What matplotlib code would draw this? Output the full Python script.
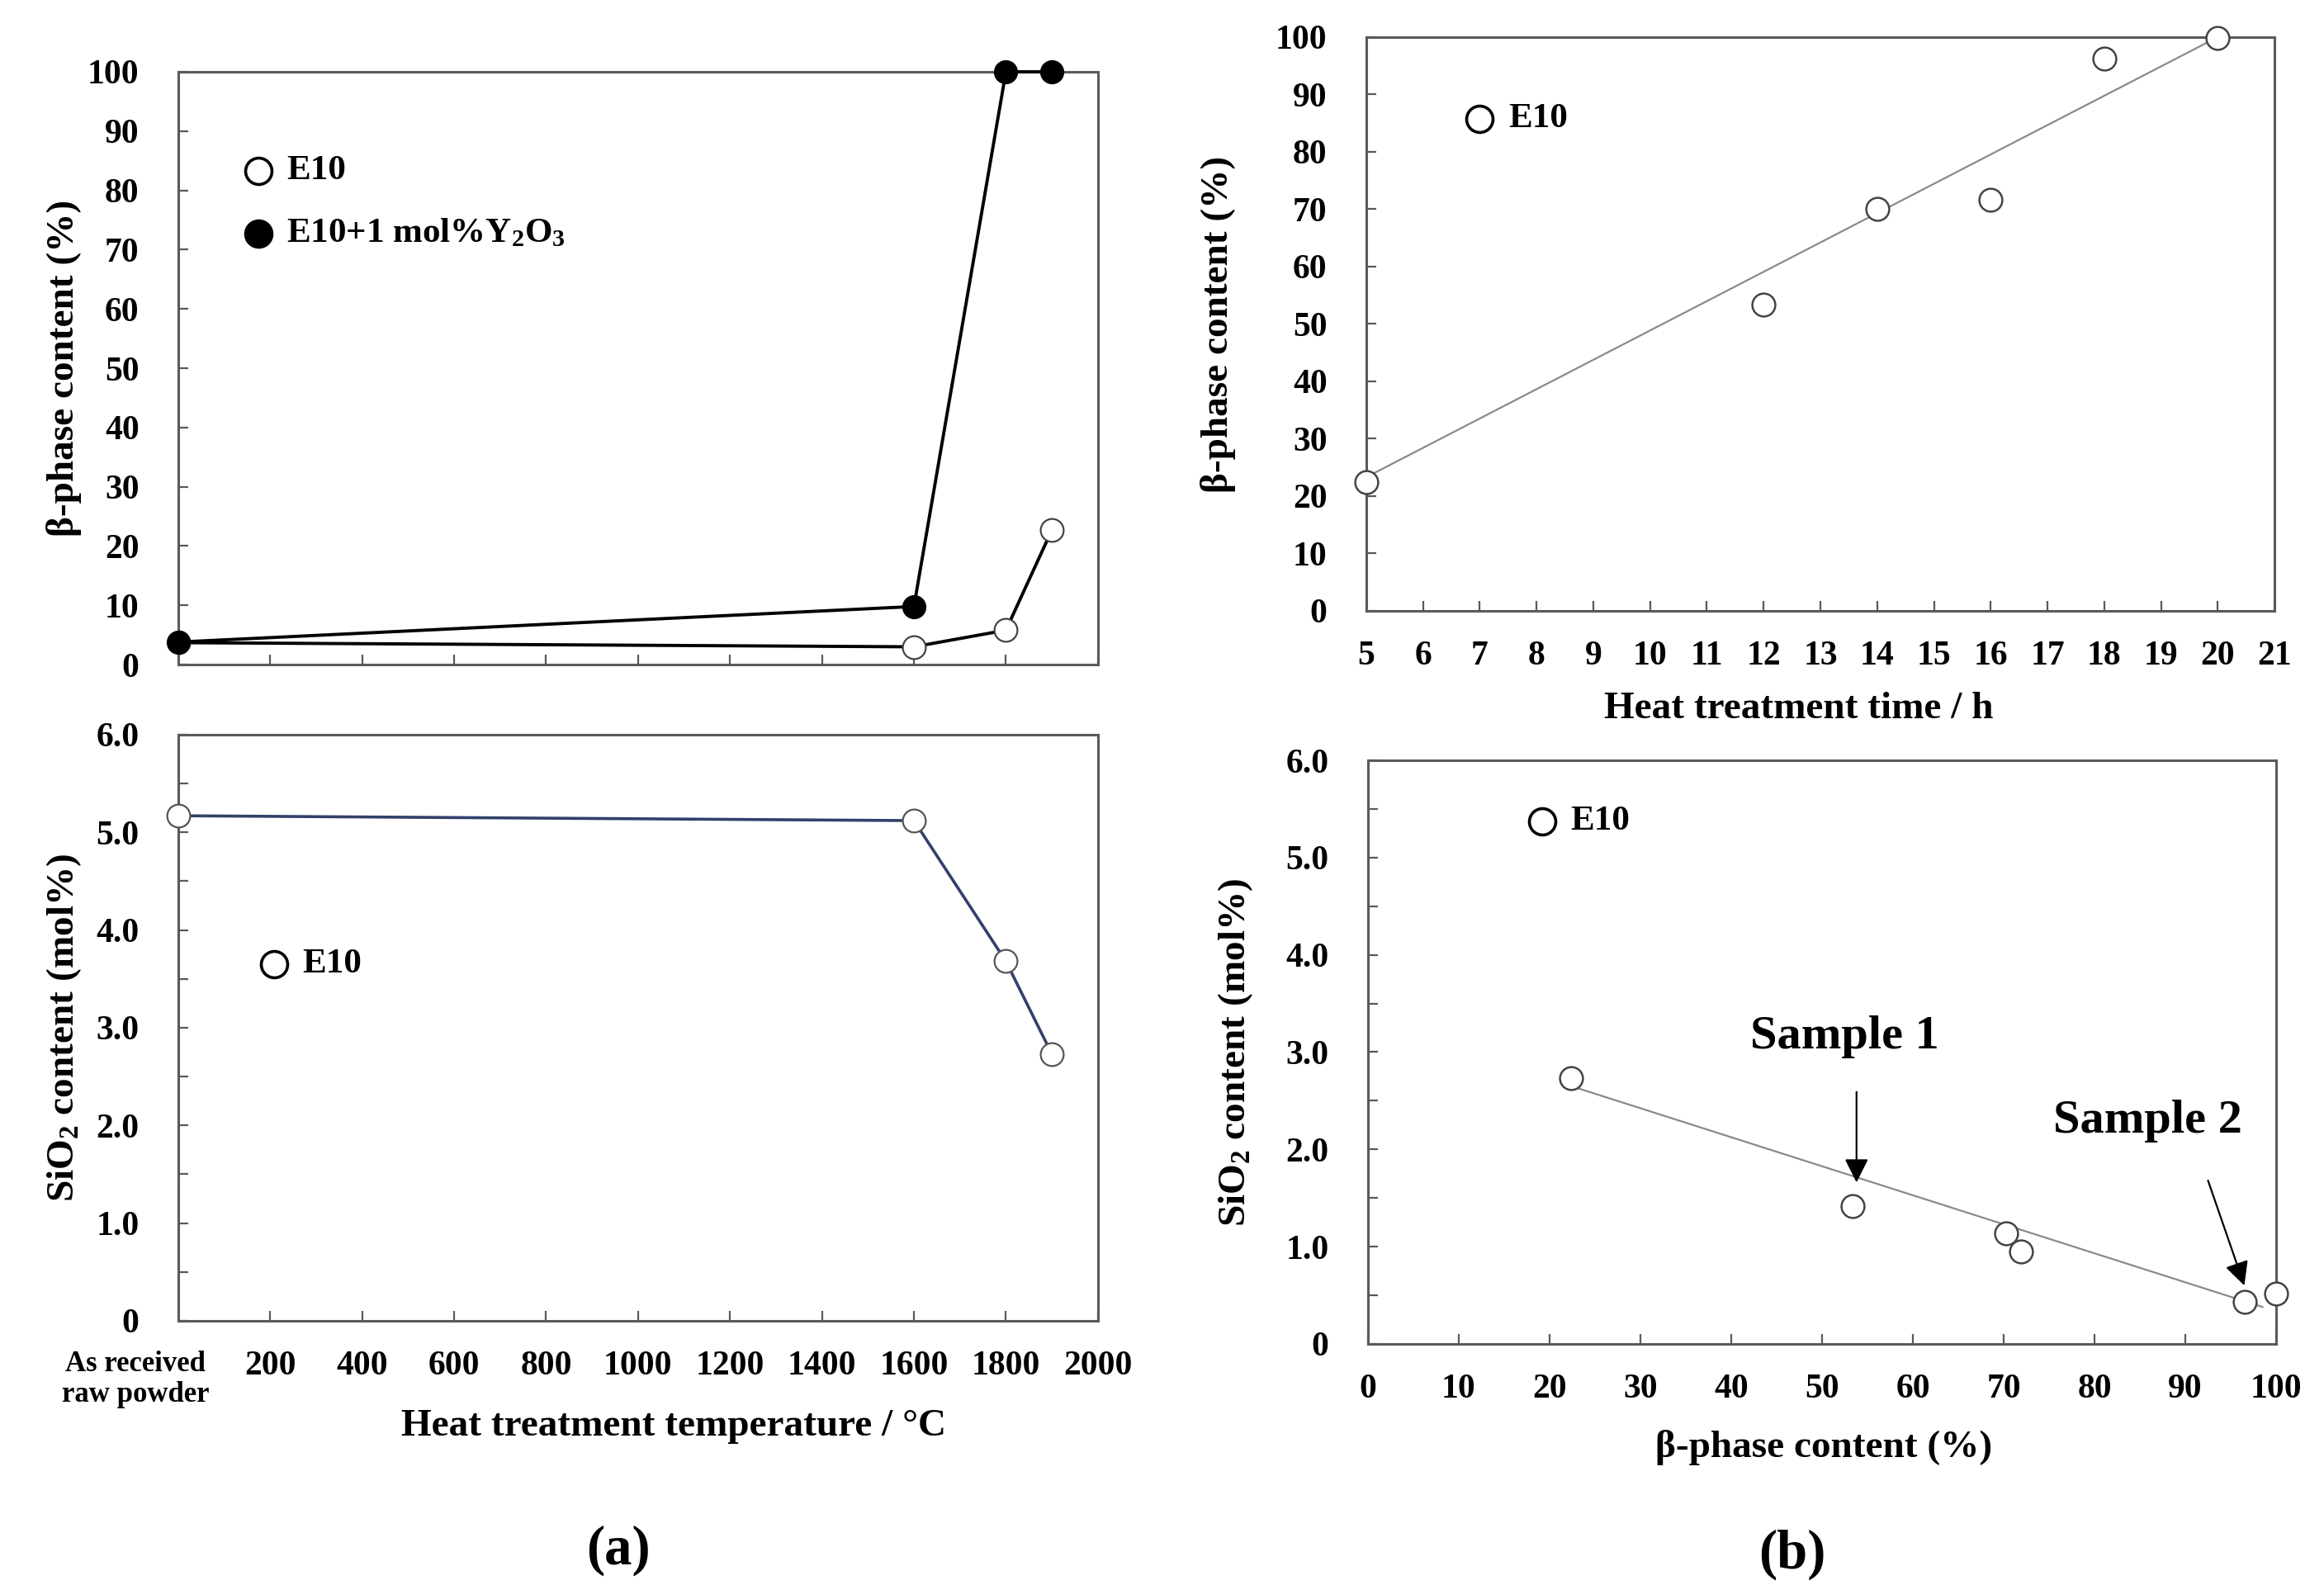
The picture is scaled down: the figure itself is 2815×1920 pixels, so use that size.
import matplotlib
matplotlib.use("Agg")
import matplotlib.pyplot as plt
import matplotlib.transforms as mtransforms
from matplotlib.ticker import MultipleLocator

plt.rcParams['font.family'] = ['Liberation Serif', 'DejaVu Serif']
plt.rcParams['font.weight'] = 'bold'
plt.rcParams['axes.labelweight'] = 'bold'
plt.rcParams['mathtext.fontset'] = 'custom'
plt.rcParams['mathtext.rm'] = 'Liberation Serif:bold'
plt.rcParams['mathtext.it'] = 'Liberation Serif:italic:bold'
plt.rcParams['mathtext.bf'] = 'Liberation Serif:bold'

# (a) heat treatment temperature series
temp = [0, 1600, 1800, 1900]
beta_e10 = [3.7, 3.0, 5.8, 22.7]
beta_y2o3 = [3.8, 9.8, 100, 100]
sio2_e10 = [5.17, 5.12, 3.68, 2.73]
temp_ticks = [0, 200, 400, 600, 800, 1000, 1200, 1400, 1600, 1800, 2000]
temp_labels = ['As received\nraw powder', '200', '400', '600', '800', '1000',
               '1200', '1400', '1600', '1800', '2000']

# (b) heat treatment time series
time_h = [5, 12, 14, 16, 18, 20]
beta_time = [22.4, 53.4, 70.0, 71.6, 96.3, 99.8]
trend_time_x = [5, 20]
trend_time_y = [23.3, 100]

# (b) SiO2 vs beta-phase
beta_b = [22.4, 53.4, 70.3, 71.9, 96.5, 100.0]
sio2_b = [2.73, 1.42, 1.14, 0.95, 0.43, 0.52]
trend_b_x = [22.4, 98.5]
trend_b_y = [2.65, 0.38]

sio2_ticks = [0, 1, 2, 3, 4, 5, 6]
sio2_labels = ['0', '1.0', '2.0', '3.0', '4.0', '5.0', '6.0']

SPINE = '#5a5a5a'
TICK_FS = 30
LABEL_FS = 34
LEG_FS = 31

fig = plt.figure(figsize=(28.15, 19.2), dpi=100)
ax1 = fig.add_axes([0.0767, 0.5807, 0.3957, 0.3740])
ax2 = fig.add_axes([0.0767, 0.1667, 0.3957, 0.3698])
ax3 = fig.add_axes([0.5879, 0.6146, 0.3908, 0.3620])
ax4 = fig.add_axes([0.5886, 0.1521, 0.3908, 0.3682])


def style(ax):
    for s in ax.spines.values():
        s.set_color(SPINE)
        s.set_linewidth(2.2)
    ax.tick_params(which='both', direction='in', length=8.5, width=1.6,
                   color=SPINE, labelsize=TICK_FS)
    ax.tick_params(axis='x', pad=26)
    ax.tick_params(axis='y', pad=34)


def key(ax, x, y, text, filled=False, dx=0):
    ax.plot([x], [y], 'o', ms=23, mfc='black' if filled else 'white',
            mec='black', mew=2.6, clip_on=False)
    ax.text(x + dx, y, text, fontsize=LEG_FS, va='center', ha='left')


# ---- top left: beta-phase vs temperature
style(ax1)
ax1.plot(temp, beta_e10, '-o', color='black', lw=2.8, ms=20, mfc='white',
         mec='#444444', mew=1.6, zorder=3)
ax1.plot(temp, beta_y2o3, '-o', color='black', lw=2.8, ms=20, mfc='black',
         mec='black', zorder=4, clip_on=False)
ax1.set_xlim(0, 2000)
ax1.set_ylim(0, 100)
ax1.set_xticks(temp_ticks)
ax1.set_xticklabels([])
ax1.yaxis.set_major_locator(MultipleLocator(10))
ax1.set_ylabel('β-phase content (%)', fontsize=LABEL_FS, va='center')
ax1.yaxis.set_label_coords(-0.124, 0.5)
key(ax1, 174, 83.3, 'E10', dx=62)
key(ax1, 174, 72.7, 'E10+1 mol%Y$_2$O$_3$', filled=True, dx=62)

# ---- bottom left: SiO2 vs temperature
style(ax2)
ax2.plot(temp, sio2_e10, '-o', color='#33406a', lw=2.6, ms=20, mfc='white',
         mec='#555555', mew=1.6, clip_on=False, zorder=3)
ax2.set_xlim(0, 2000)
ax2.set_ylim(0, 6)
ax2.set_xticks(temp_ticks)
ax2.set_xticklabels(temp_labels)
ax2.set_yticks(sio2_ticks)
ax2.set_yticklabels(sio2_labels)
ax2.yaxis.set_minor_locator(MultipleLocator(0.5))
ax2.set_ylabel('SiO$_2$ content (mol%)', fontsize=LABEL_FS, va='center')
ax2.yaxis.set_label_coords(-0.124, 0.5)
ax2.set_xlabel('Heat treatment temperature / °C', fontsize=LABEL_FS, va='center')
ax2.xaxis.set_label_coords(0.539, -0.180)
key(ax2, 208, 3.65, 'E10', dx=62)
first = ax2.get_xticklabels()[0]
first.set_fontsize(25)
first.set_linespacing(1.15)
first.set_transform(first.get_transform() +
                    mtransforms.ScaledTranslation(-0.52, 0, fig.dpi_scale_trans))

# ---- top right: beta-phase vs time
style(ax3)
ax3.plot(trend_time_x, trend_time_y, color='#8a8a8a', lw=1.6, zorder=2)
ax3.plot(time_h, beta_time, 'o', ms=20, mfc='white', mec='#444444', mew=1.8,
         clip_on=False, zorder=3)
ax3.set_xlim(5, 21)
ax3.set_ylim(0, 100)
ax3.xaxis.set_major_locator(MultipleLocator(1))
ax3.yaxis.set_major_locator(MultipleLocator(10))
ax3.set_ylabel('β-phase content (%)', fontsize=LABEL_FS, va='center')
ax3.yaxis.set_label_coords(-0.163, 0.5)
ax3.set_xlabel('Heat treatment time / h', fontsize=LABEL_FS, va='center')
ax3.xaxis.set_label_coords(0.476, -0.171)
key(ax3, 7, 85.7, 'E10', dx=0.5)

# ---- bottom right: SiO2 vs beta-phase
style(ax4)
ax4.plot(trend_b_x, trend_b_y, color='#8a8a8a', lw=1.6, zorder=2)
ax4.plot(beta_b, sio2_b, 'o', ms=20, mfc='white', mec='#444444', mew=1.8,
         clip_on=False, zorder=3)
ax4.set_xlim(0, 100)
ax4.set_ylim(0, 6)
ax4.xaxis.set_major_locator(MultipleLocator(10))
ax4.set_yticks(sio2_ticks)
ax4.set_yticklabels(sio2_labels)
ax4.yaxis.set_minor_locator(MultipleLocator(0.5))
ax4.set_ylabel('SiO$_2$ content (mol%)', fontsize=LABEL_FS, va='center')
ax4.yaxis.set_label_coords(-0.146, 0.5)
ax4.set_xlabel('β-phase content (%)', fontsize=LABEL_FS, va='center')
ax4.xaxis.set_label_coords(0.502, -0.177)
key(ax4, 19.2, 5.37, 'E10', dx=3.1)

ax4.text(52.5, 3.16, 'Sample 1', fontsize=42, ha='center', va='center')
ax4.annotate('', xy=(53.8, 1.66), xytext=(53.8, 2.59),
             arrowprops=dict(arrowstyle='-|>', color='black', lw=1.6,
                             mutation_scale=44, shrinkA=0, shrinkB=0))
ax4.text(85.9, 2.29, 'Sample 2', fontsize=42, ha='center', va='center')
ax4.annotate('', xy=(96.5, 0.60), xytext=(92.5, 1.68),
             arrowprops=dict(arrowstyle='-|>', color='black', lw=1.6,
                             mutation_scale=44, shrinkA=0, shrinkB=0))

fig.text(0.266, 0.022, '(a)', fontsize=48, ha='center', va='center')
fig.text(0.771, 0.019, '(b)', fontsize=48, ha='center', va='center')

fig.savefig('out.png', dpi=100, facecolor='white')
